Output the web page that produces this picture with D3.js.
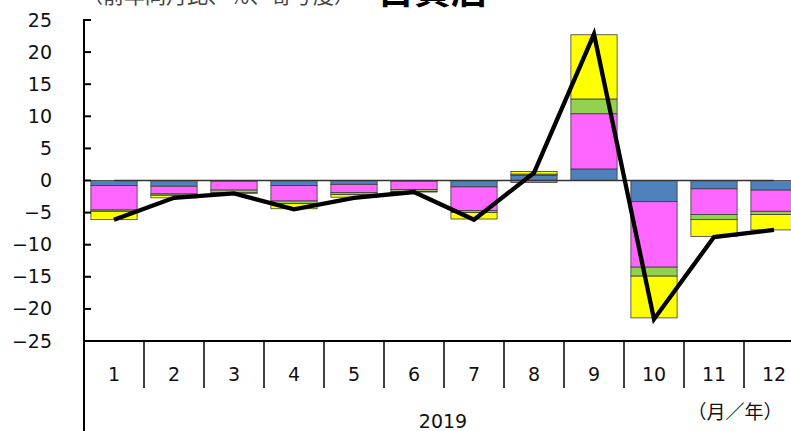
<html>

<head>
  <meta charset="utf-8">
  <title>百貨店</title>
  <script src="https://d3js.org/d3.v7.min.js"></script>
  <style>
    body {
      margin: 0;
      background: white;
    }

    text {
      font-family: "DejaVu Sans", Verdana, sans-serif;
    }

    .cjk {
      font-family: "Noto Sans CJK JP", "Noto Sans", sans-serif;
    }
  </style>
</head>

<body>
  <svg id="chart" width="791" height="431"></svg>

  <script>
    // contributions (% points, y/y)
    const months = ["1", "2", "3", "4", "5", "6", "7", "8", "9", "10", "11", "12"];
    const blueVals = [-0.8, -0.9, -0.1, -0.8, -0.6, -0.1, -1.0, 0.8, 1.8, -3.3, -1.3, -1.5];
    const magentaVals = [-3.8, -1.2, -1.4, -2.4, -1.3, -1.3, -3.7, -0.3, 8.6, -10.2, -4.0, -3.3];
    const greenVals = [-0.2, -0.2, -0.4, -0.4, -0.3, -0.3, -0.3, 0.2, 2.3, -1.4, -0.8, -0.5];
    const yellowVals = [-1.3, -0.4, -0.1, -0.8, -0.4, -0.1, -1.0, 0.4, 10.0, -6.5, -2.6, -2.4];
    const totalVals = [-6.1, -2.7, -2.0, -4.5, -2.7, -1.8, -6.1, 1.2, 22.8, -21.6, -8.8, -7.7];
    const zeroVals = months.map(() => 0);
    const yTicks = [25, 20, 15, 10, 5, 0, -5, -10, -15, -20, -25];

    const seriesKeys = ["blue", "magenta", "green", "yellow"];
    const colors = { blue: "#4f81bd", magenta: "#ff66ff", green: "#92d050", yellow: "#ffff00" };

    const svg = d3.select("svg#chart");

    const plotLeft = 84, plotRight = 804, plotTop = 20, plotBottom = 341;

    let rows = months.map((m, i) => ({
      month: m,
      blue: blueVals[i],
      magenta: magentaVals[i],
      green: greenVals[i],
      yellow: yellowVals[i]
    }));

    let xScale = d3.scaleBand().domain(months).range([plotLeft, plotRight])
      .paddingInner(0.23).paddingOuter(0.115);
    let yScale = d3.scaleLinear().domain([-25, 25]).range([plotBottom, plotTop]);

    let stacked = d3.stack().keys(seriesKeys).offset(d3.stackOffsetDiverging)(rows);

    // bars
    let barArea = svg.append("g").attr("id", "bars");
    barArea.selectAll("g.series").data(stacked)
      .join("g")
      .attr("class", "series")
      .attr("fill", d => colors[d.key])
      .selectAll("rect").data(d => d)
      .join("rect")
      .attr("x", d => xScale(d.data.month))
      .attr("width", xScale.bandwidth())
      .attr("y", d => yScale(Math.max(d[0], d[1])))
      .attr("height", d => Math.abs(yScale(d[0]) - yScale(d[1])))
      .attr("stroke", "#3a3a3a")
      .attr("stroke-width", 0.8);

    // zero line (drawn as a flat series across the categories)
    let centre = m => xScale(m) + xScale.bandwidth() / 2;
    svg.append("path")
      .datum(zeroVals)
      .attr("fill", "none")
      .attr("stroke", "#333")
      .attr("stroke-width", 1.6)
      .attr("d", d3.line().x((d, i) => centre(months[i])).y(d => yScale(d)));

    // total line
    svg.append("path")
      .datum(totalVals)
      .attr("fill", "none")
      .attr("stroke", "black")
      .attr("stroke-width", 4.3)
      .attr("stroke-linejoin", "miter")
      .attr("d", d3.line().x((d, i) => centre(months[i])).y(d => yScale(d)));

    // y axis
    let leftAxis = d3.axisLeft(yScale).tickValues(yTicks).tickSize(0).tickPadding(32);
    let yAxisG = svg.append("g")
      .attr("transform", `translate(${plotLeft},0)`)
      .call(leftAxis);
    yAxisG.select(".domain").remove();
    yAxisG.selectAll("text")
      .attr("font-size", 19)
      .attr("fill", "#111");

    svg.append("g").selectAll("line").data(yTicks)
      .join("line")
      .attr("x1", plotLeft).attr("x2", plotLeft + 7)
      .attr("y1", d => yScale(d)).attr("y2", d => yScale(d))
      .attr("stroke", "black")
      .attr("stroke-width", 2);

    svg.append("line")
      .attr("x1", plotLeft).attr("x2", plotLeft)
      .attr("y1", plotTop - 1).attr("y2", 431)
      .attr("stroke", "black")
      .attr("stroke-width", 2);

    // category axis (bottom)
    svg.append("line")
      .attr("x1", plotLeft).attr("x2", 791)
      .attr("y1", plotBottom).attr("y2", plotBottom)
      .attr("stroke", "black")
      .attr("stroke-width", 2);

    let gap = (xScale.step() - xScale.bandwidth()) / 2;
    svg.append("g").selectAll("line").data(months.slice(1))
      .join("line")
      .attr("x1", d => xScale(d) - gap)
      .attr("x2", d => xScale(d) - gap)
      .attr("y1", plotBottom).attr("y2", 388)
      .attr("stroke", "black")
      .attr("stroke-width", 1.5);

    svg.append("g").selectAll("text").data(months)
      .join("text")
      .attr("x", d => centre(d))
      .attr("y", 381)
      .attr("text-anchor", "middle")
      .attr("font-size", 19)
      .attr("fill", "#111")
      .text(d => d);

    svg.append("text")
      .attr("x", 443)
      .attr("y", 428)
      .attr("text-anchor", "middle")
      .attr("font-size", 19)
      .attr("fill", "#111")
      .text("2019");

    svg.append("text")
      .attr("class", "cjk")
      .attr("x", 735)
      .attr("y", 419)
      .attr("text-anchor", "middle")
      .attr("font-size", 19)
      .attr("fill", "#111")
      .text("（月／年）");

    // titles (clipped at the top of the picture, as in the source)
    svg.append("text")
      .attr("class", "cjk")
      .attr("x", 82)
      .attr("y", 3)
      .attr("font-size", 21)
      .attr("fill", "#444")
      .text("（前年同月比、％、寄与度）");

    svg.append("text")
      .attr("class", "cjk")
      .attr("x", 377)
      .attr("y", 4)
      .attr("font-size", 37)
      .attr("font-weight", "bold")
      .attr("fill", "black")
      .text("百貨店");
  </script>
</body>

</html>
